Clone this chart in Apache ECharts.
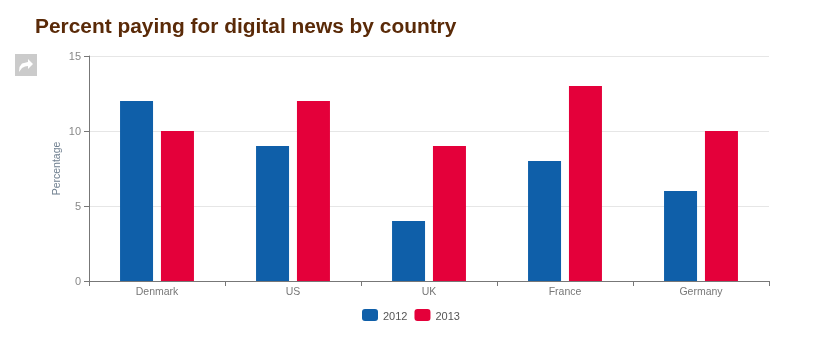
<!DOCTYPE html>
<html>
<head>
<meta charset="utf-8">
<title>Percent paying for digital news by country</title>
<script src="https://cdn.jsdelivr.net/npm/echarts@6/dist/echarts.min.js"></script>
<style>
  html, body { margin: 0; padding: 0; background: #fff; }
  #my-chart { width: 832px; height: 355px; }
</style>
</head>
<body>
<div id="my-chart"></div>
<script>
const categories = ["Denmark", "US", "UK", "France", "Germany"];
const values2012 = [12, 9, 4, 8, 6];
const values2013 = [10, 12, 9, 13, 10];
const yearNames = ["2012", "2013"];

const myChart = echarts.init(document.getElementById("my-chart"));
const font = "Liberation Sans";
const option = {
  animation: false,
  title: {
    text: "Percent paying for digital news by country",
    left: 30,
    top: 12,
    textStyle: {
      fontFamily: font,
      fontSize: 20.9,
      fontWeight: "bold",
      color: "#5a2a08",
    },
  },
  legend: {
    data: yearNames,
    left: 357,
    top: 304,
    itemWidth: 16,
    itemHeight: 12,
    itemGap: 7,
    formatter: "{t|{name}}",
    textStyle: {
      rich: { t: { fontFamily: font, fontSize: 11, color: "#555", padding: [4, 0, 0, 0] } },
    },
  },
  grid: { left: 89, right: 63, top: 56, bottom: 74 },
  xAxis: {
    type: "category",
    data: categories,
    axisLine: { lineStyle: { color: "#777", width: 1 } },
    axisTick: { show: true, length: 5, lineStyle: { color: "#777" } },
    axisLabel: { fontFamily: font, fontSize: 10.5, color: "#777", margin: 6 },
  },
  yAxis: {
    type: "value",
    min: 0,
    max: 15,
    interval: 5,
    name: "Percentage",
    nameLocation: "middle",
    nameGap: 26,
    nameMoveOverlap: false,
    nameTextStyle: { fontFamily: font, fontSize: 10.5, color: "#6f7f8f" },
    axisLine: { show: true, lineStyle: { color: "#777", width: 1 } },
    axisTick: { show: true, length: 5, lineStyle: { color: "#777" } },
    axisLabel: {
      margin: 8,
      formatter: "{t|{value}}",
      rich: { t: { fontFamily: font, fontSize: 11, color: "#888", padding: [2, 0, 0, 0] } },
    },
    splitLine: { lineStyle: { color: "#e6e6e6", width: 1 } },
  },
  graphic: [
    {
      type: "rect",
      left: 15,
      top: 54,
      shape: { width: 22, height: 22 },
      style: { fill: "#cbcbcb" },
    },
    {
      // share arrow
      type: "polygon",
      left: 19,
      top: 59,
      shape: {
        points: [[9, 0], [14, 5], [9, 10], [9, 7], [6, 7.5], [3, 9], [0, 13], [0.5, 8], [3, 4.5], [9, 3]],
      },
      style: { fill: "#fff" },
    },
  ],
  series: [
    {
      name: yearNames[0],
      type: "bar",
      data: values2012,
      barWidth: 33,
      barGap: "24%",
      itemStyle: { color: "#0f5fa9" },
    },
    {
      name: yearNames[1],
      type: "bar",
      data: values2013,
      barWidth: 33,
      itemStyle: { color: "#e4003a" },
    },
  ],
};
myChart.setOption(option);
</script>
</body>
</html>
